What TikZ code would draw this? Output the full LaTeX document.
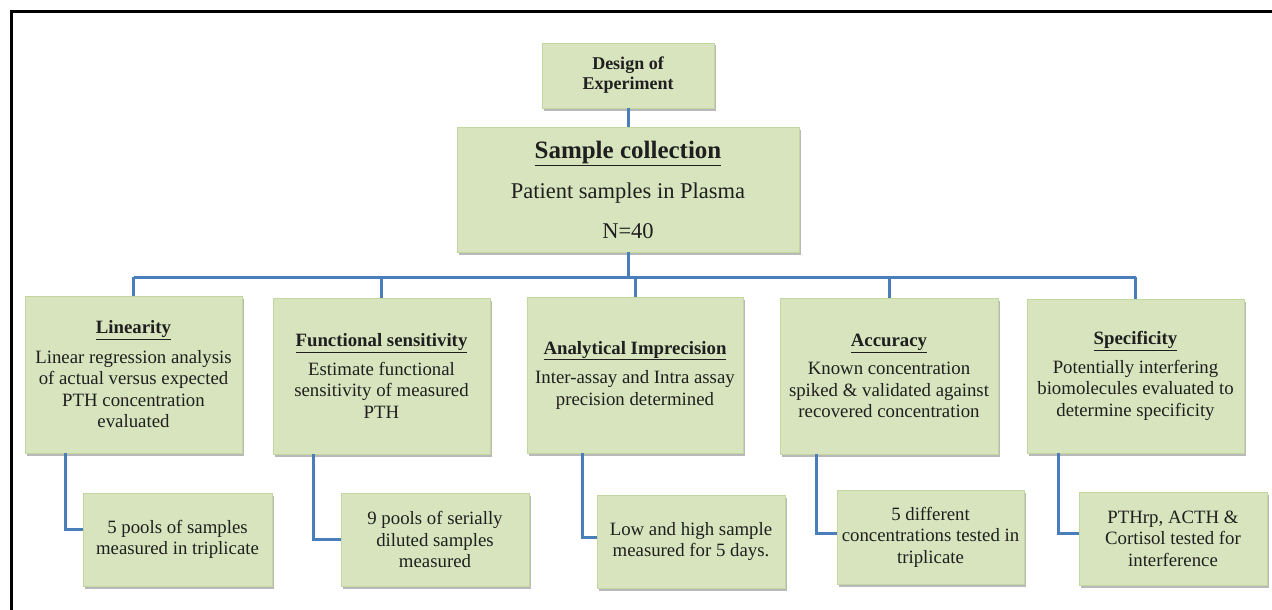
\documentclass[tikz,border=0pt]{standalone}
\usepackage{fontspec}
\setmainfont{Liberation Serif}
\usetikzlibrary{shadows}
\definecolor{boxfill}{HTML}{D7E4BD}
\definecolor{boxedge}{HTML}{C4D6A0}
\definecolor{conncol}{HTML}{4A7EBB}
\begin{document}
\begin{tikzpicture}[x=1pt,y=-1pt,
  box/.style={draw=boxedge, line width=0.8pt, fill=boxfill, anchor=north west,
    inner sep=0pt, outer sep=0pt, align=center, text=black!88,
    font=\fontsize{18.8}{21.5}\selectfont,
    drop shadow={shadow xshift=2pt, shadow yshift=-2.5pt, fill=black!50, opacity=0.55}},
  link/.style={draw=conncol, line width=3pt},
  frameline/.style={draw=black, line width=3pt}]
\useasboundingbox (0,0) rectangle (1272,610);
\fill[white] (0,0) rectangle (1272,610);
\draw[frameline] (11.5,610) -- (11.5,11.5) -- (1272,11.5);

% top boxes
\node[box, minimum width=172pt, minimum height=65pt,
  font=\fontsize{18}{20}\selectfont\bfseries] (doe) at (542,43)
  {Design of\\Experiment};
\node[box, minimum width=342pt, minimum height=125pt,
  font=\fontsize{22.5}{40}\selectfont] (sc) at (457,127)
  {{\fontsize{25}{40}\selectfont\bfseries\underline{Sample collection}}\\
   Patient samples in Plasma\\N=40};

% second row
\node[box, minimum width=217pt, minimum height=157pt] (b1) at (25,296)
  {\underline{\textbf{Linearity}}\\[8pt]
   Linear regression analysis\\of actual versus expected\\PTH concentration\\evaluated};
\node[box, minimum width=217pt, minimum height=156pt] (b2) at (273,298)
  {\underline{\textbf{Functional sensitivity}}\\[7pt]
   Estimate functional\\sensitivity of measured\\PTH};
\node[box, minimum width=216pt, minimum height=156pt] (b3) at (527,297)
  {\underline{\textbf{Analytical Imprecision}}\\[8pt]
   Inter-assay and Intra assay\\precision determined};
\node[box, minimum width=218pt, minimum height=156pt] (b4) at (780,298)
  {\underline{\textbf{Accuracy}}\\[7pt]
   Known concentration\\spiked \& validated against\\recovered concentration};
\node[box, minimum width=217pt, minimum height=154pt] (b5) at (1027,299)
  {\underline{\textbf{Specificity}}\\[7pt]
   Potentially interfering\\biomolecules evaluated to\\determine specificity};

% third row
\node[box, minimum width=189pt, minimum height=93pt] (s1) at (83,493)
  {5 pools of samples\\measured in triplicate};
\node[box, minimum width=188pt, minimum height=93pt] (s2) at (341,493)
  {9 pools of serially\\diluted samples\\measured};
\node[box, minimum width=188pt, minimum height=93pt] (s3) at (597,495)
  {Low and high sample\\measured for 5 days.};
\node[box, minimum width=187pt, minimum height=94pt] (s4) at (837,490)
  {5 different\\concentrations tested in\\triplicate};
\node[box, minimum width=188pt, minimum height=93pt] (s5) at (1079,492)
  {PTHrp, ACTH \&\\Cortisol tested for\\interference};

% connectors
\coordinate (bus) at (0,277);
\draw[link] (doe.south) -- (doe.south |- sc.north);
\draw[link] (sc.south) -- (sc.south |- bus);
\draw[link] (b1.north |- bus) -- (b5.north |- bus);
\foreach \b in {b1,b2,b3,b4,b5}{
  \draw[link] (\b.north |- bus) -- (\b.north);
}
\draw[link] ([xshift=40pt]b1.south west) |- ([yshift=10pt]s1.west);
\draw[link] ([xshift=40pt]b2.south west) |- (s2.west);
\draw[link] ([xshift=55pt]b3.south west) |- ([yshift=4pt]s3.west);
\draw[link] ([xshift=36pt]b4.south west) |- ([yshift=4pt]s4.west);
\draw[link] ([xshift=31pt]b5.south west) |- ([yshift=5pt]s5.west);
\end{tikzpicture}
\end{document}
